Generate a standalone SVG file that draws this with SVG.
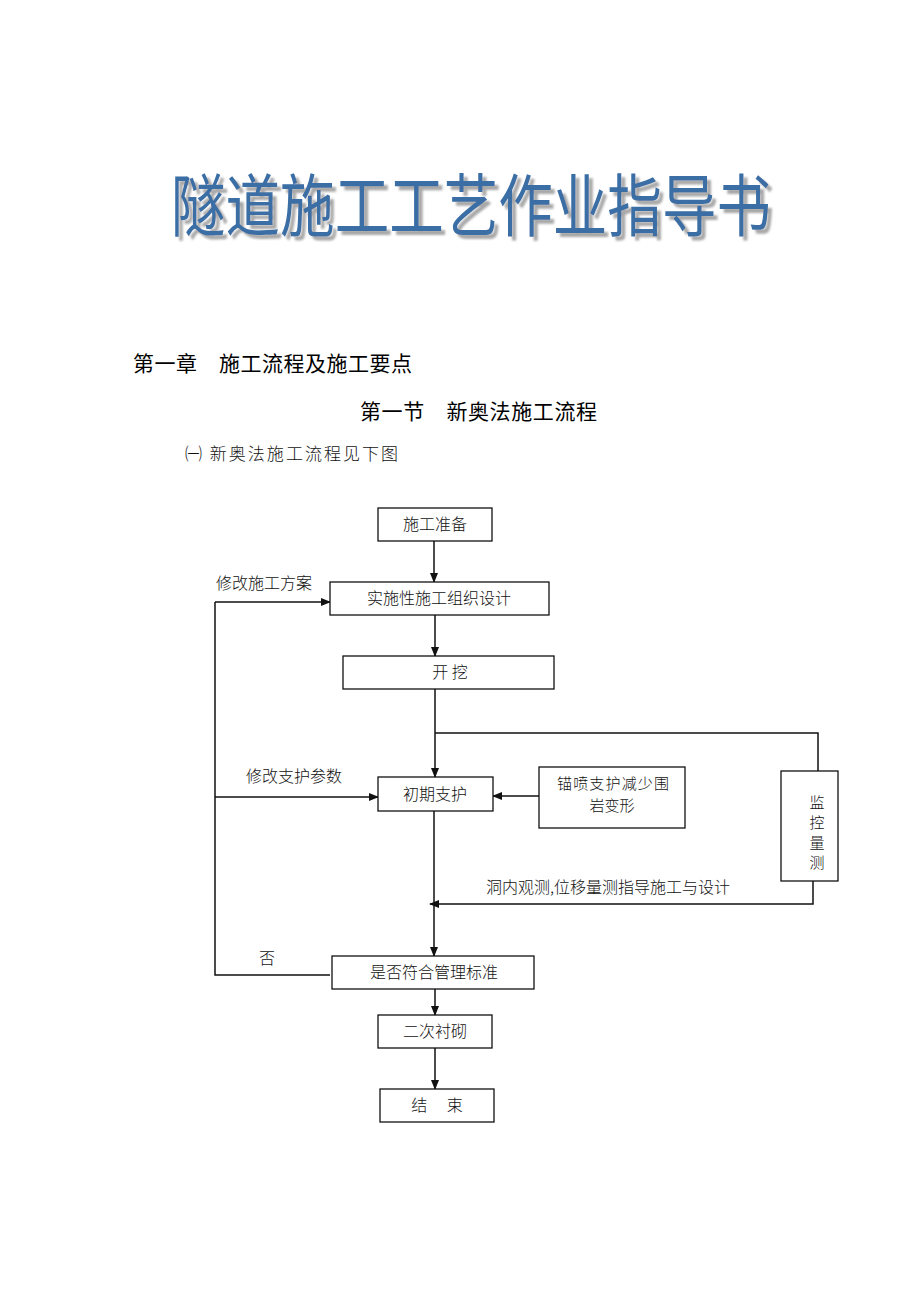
<svg xmlns="http://www.w3.org/2000/svg" width="920" height="1302" viewBox="0 0 920 1302">
<style>
.t{font-family:"Noto Sans CJK SC","Liberation Sans",sans-serif;font-size:16px;fill:#111;font-weight:300}
.c{text-anchor:middle}
.v{font-size:15px}
.box{fill:#fff;stroke:#111;stroke-width:1.3}
.ln{fill:none;stroke:#111;stroke-width:1.5}
.h{font-family:"Noto Sans CJK SC","Liberation Sans",sans-serif;font-size:21px;fill:#000;font-weight:400}
.title{font-family:"Noto Sans CJK SC","Liberation Sans",sans-serif;font-size:68px;font-weight:400;fill:#3a6ea5}
</style>
<defs>
<marker id="ar" markerWidth="10" markerHeight="8" refX="9" refY="4" orient="auto" markerUnits="userSpaceOnUse">
<path d="M0,0 L10,4 L0,8 Z" fill="#111"/>
</marker>
<filter id="sh" x="-5%" y="-20%" width="110%" height="140%">
<feDropShadow dx="4" dy="4" stdDeviation="0.8" flood-color="#a8a8a8" flood-opacity="1"/>
</filter>
</defs>
<rect width="920" height="1302" fill="#fff"/>
<g id="title">
<text class="title" x="171" y="231" textLength="600" lengthAdjust="spacingAndGlyphs" filter="url(#sh)">隧道施工工艺作业指导书</text>
</g>
<g id="headings">
<text class="h" x="133" y="371" textLength="279" lengthAdjust="spacing">第一章　施工流程及施工要点</text>
<text class="h" x="360" y="419" textLength="237" lengthAdjust="spacing">第一节　新奥法施工流程</text>
<text class="t" x="185" y="460" style="font-size:17px" textLength="213" lengthAdjust="spacing">㈠ 新奥法施工流程见下图</text>
</g>
<g id="connectors">
<line class="ln" x1="434" y1="541" x2="434" y2="582" marker-end="url(#ar)"/>
<line class="ln" x1="435" y1="615" x2="435" y2="656" marker-end="url(#ar)"/>
<line class="ln" x1="435" y1="689" x2="435" y2="777" marker-end="url(#ar)"/>
<polyline class="ln" points="435,733 818,733 818,771"/>
<polyline class="ln" points="330,975 215,975 215,602"/>
<line class="ln" x1="215" y1="602" x2="330" y2="602" marker-end="url(#ar)"/>
<line class="ln" x1="215" y1="797" x2="378" y2="797" marker-end="url(#ar)"/>
<line class="ln" x1="539" y1="796" x2="493" y2="796" marker-end="url(#ar)"/>
<line class="ln" x1="434" y1="811" x2="434" y2="956" marker-end="url(#ar)"/>
<polyline class="ln" points="813,881 813,904 430,904" marker-end="url(#ar)"/>
<line class="ln" x1="435" y1="989" x2="435" y2="1015" marker-end="url(#ar)"/>
<line class="ln" x1="435" y1="1048" x2="435" y2="1089" marker-end="url(#ar)"/>
<text class="t" x="216" y="589">修改施工方案</text>
<text class="t" x="246" y="782">修改支护参数</text>
<text class="t" x="486" y="893">洞内观测,位移量测指导施工与设计</text>
<text class="t" x="259" y="964">否</text>
</g>
<g id="n1"><rect class="box" x="378" y="508" width="114" height="33"/><text class="t c" x="435" y="530">施工准备</text></g>
<g id="n2"><rect class="box" x="330" y="582" width="219" height="33"/><text class="t c" x="439" y="604">实施性施工组织设计</text></g>
<g id="n3"><rect class="box" x="343" y="656" width="211" height="33"/><text class="t c" x="450" y="678" xml:space="preserve">开 挖</text></g>
<g id="n4"><rect class="box" x="378" y="777" width="115" height="34"/><text class="t c" x="435" y="800">初期支护</text></g>
<g id="n5"><rect class="box" x="539" y="767" width="146" height="61"/><text class="t c v" x="613" y="789" textLength="112" lengthAdjust="spacing">锚喷支护减少围</text><text class="t c v" x="612" y="811">岩变形</text></g>
<g id="n6"><rect class="box" x="781" y="771" width="57" height="110"/>
<text class="t c v" x="817" y="808">监</text><text class="t c v" x="817" y="828">控</text><text class="t c v" x="817" y="848">量</text><text class="t c v" x="817" y="868">测</text></g>
<g id="n7"><rect class="box" x="332" y="956" width="202" height="33"/><text class="t c" x="434" y="978">是否符合管理标准</text></g>
<g id="n8"><rect class="box" x="378" y="1015" width="114" height="33"/><text class="t c" x="435" y="1037">二次衬砌</text></g>
<g id="n9"><rect class="box" x="380" y="1089" width="114" height="33"/><text class="t c" x="437" y="1111" xml:space="preserve">结　 束</text></g>
</svg>
